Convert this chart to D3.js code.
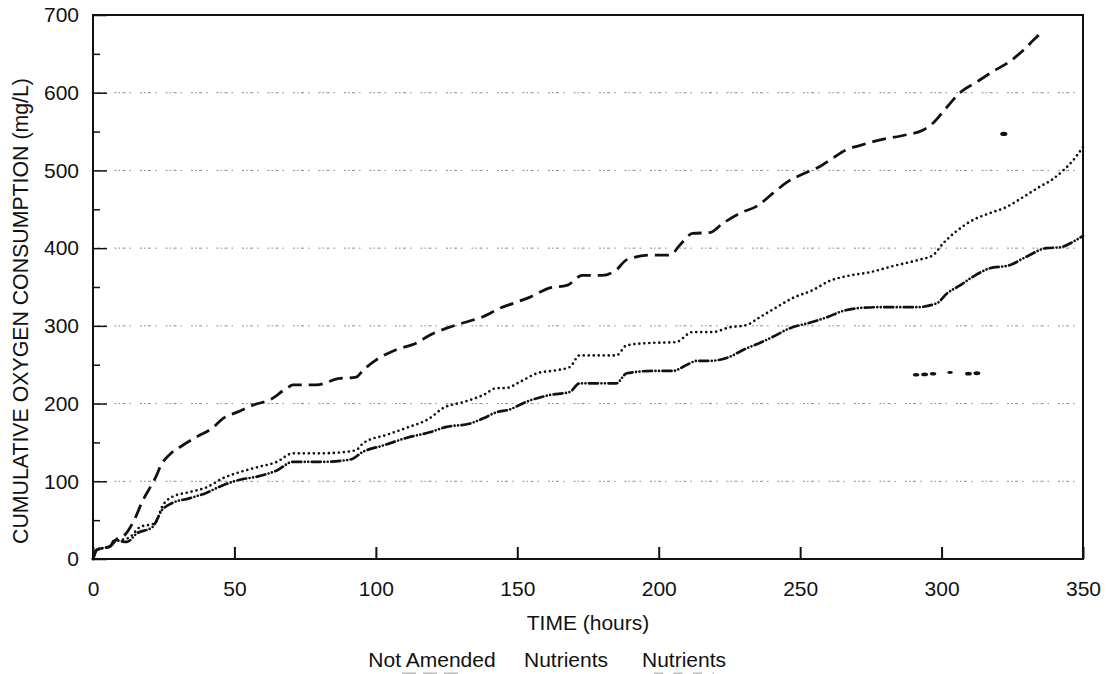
<!DOCTYPE html>
<html>
<head>
<meta charset="utf-8">
<script src="https://cdn.jsdelivr.net/npm/d3@7"></script>
<style>
  body { margin: 0; background: #fff; }
  text { font-family: "Liberation Sans", Arial, sans-serif; fill: #111; }
</style>
</head>
<body>
<div id="chart"></div>
<script>
// hours vs cumulative oxygen consumption (mg/L)
const notAmended = [
  [0, 0], [1.4, 12], [3.5, 14], [6, 16], [8.5, 26], [11, 30], [14, 46], [17.7, 76],
  [22, 104], [24.4, 123], [27, 134], [32, 147], [36.6, 157], [42, 168], [46, 181],
  [51, 189], [56.6, 198], [62.6, 205], [68.6, 220], [70.7, 224], [79, 224], [86.6, 232],
  [93, 234], [95.5, 243], [100, 256], [107, 269], [114.5, 278], [119, 288], [125, 297],
  [131, 304], [138, 312], [144, 323], [148.5, 329], [154.5, 337], [161.5, 349],
  [167.5, 352], [173, 365], [180, 365], [185, 372], [188.7, 385], [197, 391], [204, 391],
  [207.5, 404], [212, 419], [218, 420], [222.7, 432], [228.7, 445], [234.7, 454],
  [240.5, 471], [245, 484], [252, 497], [257, 505], [261.6, 516], [266, 526], [271, 532],
  [278, 539], [287.7, 546], [293.5, 552], [297, 561], [302, 582], [306.5, 600],
  [312.5, 614], [318, 627], [324, 640], [329, 655], [333.7, 672], [335, 676]
];
const nutrientsA = [
  [0, 0], [1.4, 12], [3.5, 14], [6, 16], [7.5, 24], [10.6, 25], [13, 28], [16.6, 41],
  [22, 46], [24.4, 67], [28, 80], [34, 86], [40, 92], [46, 104], [52, 112], [58, 118],
  [65, 125], [70.7, 136], [81, 136], [87, 137], [93, 140], [95.5, 149], [104, 160],
  [111, 169], [119, 181], [123.7, 194], [131, 202], [138, 211], [142.8, 220], [146, 220],
  [151, 228], [157, 239], [164, 243], [168.6, 247], [172, 262], [185, 262], [188.7, 275],
  [197, 278], [206, 279], [212, 292], [219, 292], [225, 298], [231, 301], [235.7, 311],
  [241.7, 324], [247.5, 336], [254.5, 346], [260.5, 358], [266.5, 364], [274.6, 369],
  [284, 378], [292, 385], [297, 391], [300.5, 406], [305, 421], [311, 436], [317, 445],
  [323, 453], [329, 466], [334.7, 479], [339, 488], [343, 500], [346.5, 513], [350, 530]
];
const nutrientsB = [
  [0, 0], [1.4, 12], [3.5, 14], [6, 16], [7.5, 24], [12, 22], [15.5, 33], [21, 41],
  [24.4, 63], [28, 72], [34, 78], [40, 85], [46, 95], [52, 102], [58, 106], [65, 114],
  [70.7, 125], [81, 125], [91, 128], [95.5, 138], [102.5, 146], [111, 156], [119, 163],
  [125, 170], [133, 174], [138, 181], [142.8, 189], [147, 192], [153, 202], [161.5, 211],
  [168.6, 215], [172, 226], [185, 226], [188.7, 239], [198, 242], [205, 242], [210, 250],
  [213.5, 255], [218, 255], [225, 260], [229.8, 269], [235.7, 278], [240.4, 286],
  [246.4, 297], [253.4, 304], [259.4, 311], [265, 319], [271, 323], [278, 324], [291, 324],
  [298.3, 329], [302, 342], [306.5, 352], [311, 363], [317, 374], [324, 378], [330, 389],
  [337, 400], [341.8, 401], [346.4, 408], [350, 416]
];
// stray specks printed on the original figure
const specks = [[322, 547, 2.6], [291, 237, 2.2], [294, 237.5, 2.4], [297, 238.5, 2.2],
  [303, 240, 1.8], [309.5, 238.5, 2.4], [312.5, 239, 2.4]];

const xTicks = [0, 50, 100, 150, 200, 250, 300, 350];
const yTicks = [0, 100, 200, 300, 400, 500, 600, 700];
const yMinor = [50, 150, 250, 350, 450, 550, 650];
const legendLabels = ['Not Amended', 'Nutrients', 'Nutrients'];

const W = 1109, H = 674;
const m = { left: 93, top: 15, right: 26, bottom: 115 };
const iw = W - m.left - m.right, ih = H - m.top - m.bottom;

const svg = d3.select('#chart').append('svg')
  .attr('width', W).attr('height', H);

const x = d3.scaleLinear().domain([0, 350]).range([m.left, m.left + iw]);
const y = d3.scaleLinear().domain([0, 700]).range([m.top + ih, m.top]);

// faint dotted gridlines
svg.append('g')
  .selectAll('line')
  .data(yTicks.filter(d => d > 0 && d < 700))
  .join('line')
  .attr('x1', x(0)).attr('x2', x(350))
  .attr('y1', d => y(d)).attr('y2', d => y(d))
  .attr('stroke', '#8a8a8a')
  .attr('stroke-width', 1)
  .attr('stroke-dasharray', '1.5,2.5,3,4,1.5,9,2,2');

// x axis (ticks point inward)
svg.append('g')
  .attr('transform', `translate(0,${y(0)})`)
  .call(d3.axisBottom(x).tickValues(xTicks).tickSize(-12).tickPadding(22).tickFormat(d3.format('d')))
  .call(g => g.select('.domain').remove())
  .call(g => g.selectAll('line').attr('stroke', '#111').attr('stroke-width', 2))
  .call(g => g.selectAll('text').attr('font-size', 21).attr('font-family', '"Liberation Sans", Arial, sans-serif'));

// y axis
svg.append('g')
  .attr('transform', `translate(${x(0)},0)`)
  .call(d3.axisLeft(y).tickValues(yTicks).tickSize(-14).tickPadding(14).tickFormat(d3.format('d')))
  .call(g => g.select('.domain').remove())
  .call(g => g.selectAll('line').attr('stroke', '#111').attr('stroke-width', 1.5))
  .call(g => g.selectAll('text').attr('font-size', 21).attr('font-family', '"Liberation Sans", Arial, sans-serif'));

svg.append('g')
  .attr('transform', `translate(${x(0)},0)`)
  .call(d3.axisLeft(y).tickValues(yMinor).tickSize(-7).tickFormat(''))
  .call(g => g.select('.domain').remove())
  .call(g => g.selectAll('line').attr('stroke', '#111').attr('stroke-width', 1.5));

// frame
svg.append('rect')
  .attr('x', x(0)).attr('y', y(700))
  .attr('width', x(350) - x(0)).attr('height', y(0) - y(700))
  .attr('fill', 'none').attr('stroke', '#111').attr('stroke-width', 2);

const line = d3.line().x(d => x(d[0])).y(d => y(d[1])).curve(d3.curveMonotoneX);

const series = [
  { data: notAmended, dash: '14,7', w: 2.8, cap: 'butt' },
  { data: nutrientsA, dash: '0,5', w: 2.7, cap: 'round' },
  { data: nutrientsB, dash: '9,3.5,0,3.5,0,3.5', w: 2.7, cap: 'round' }
];

svg.append('g')
  .selectAll('path')
  .data(series)
  .join('path')
  .attr('d', d => line(d.data))
  .attr('fill', 'none')
  .attr('stroke', '#111')
  .attr('stroke-width', d => d.w)
  .attr('stroke-linecap', d => d.cap)
  .attr('stroke-dasharray', d => d.dash);

svg.append('g')
  .selectAll('ellipse')
  .data(specks)
  .join('ellipse')
  .attr('cx', d => x(d[0])).attr('cy', d => y(d[1]))
  .attr('rx', d => d[2] + 1).attr('ry', d => d[2] * 0.8)
  .attr('fill', '#111');

// axis titles
svg.append('text')
  .attr('x', (x(0) + x(350)) / 2).attr('y', 630)
  .attr('text-anchor', 'middle').attr('font-size', 21)
  .text('TIME (hours)');

svg.append('text')
  .attr('transform', `translate(28,${y(0) - 248}) rotate(-90)`)
  .attr('text-anchor', 'middle').attr('font-size', 21.3)
  .text('CUMULATIVE OXYGEN CONSUMPTION (mg/L)');

// legend labels with their line samples just below (cut off at the bottom)
const legX = [432, 566, 684];
const leg = svg.append('g');
leg.selectAll('text')
  .data(legendLabels)
  .join('text')
  .attr('x', (d, i) => legX[i]).attr('y', 667)
  .attr('text-anchor', 'middle').attr('font-size', 21)
  .text(d => d);
leg.selectAll('line')
  .data(series)
  .join('line')
  .attr('x1', (d, i) => legX[i] - 30).attr('x2', (d, i) => legX[i] + 30)
  .attr('y1', 674).attr('y2', 674)
  .attr('stroke', '#bbb').attr('stroke-width', 3)
  .attr('stroke-dasharray', d => d.dash);
</script>
</body>
</html>
